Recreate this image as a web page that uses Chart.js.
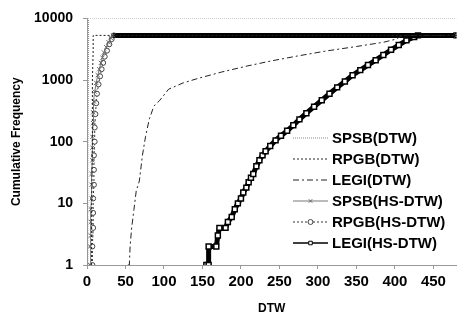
<!DOCTYPE html>
<html>
<head>
<meta charset="utf-8">
<script src="https://cdn.jsdelivr.net/npm/chart.js@4"></script>
<style>
  body { margin: 0; background: #fff; }
  #wrap { width: 462px; height: 316px; }
</style>
</head>
<body>
<div id="wrap"><canvas id="grafico" width="462" height="316"></canvas></div>
<script>
// dados (x = DTW, y = frequência acumulada)
const xTicks = [0, 50, 100, 150, 200, 250, 300, 350, 400, 450];
const yTicks = [1, 10, 100, 1000, 10000];
const nomes = ["SPSB(DTW)", "RPGB(DTW)", "LEGI(DTW)", "SPSB(HS-DTW)", "RPGB(HS-DTW)", "LEGI(HS-DTW)"];

const spsbDtw = [[1, 1], [1, 30], [1.5, 300], [2, 3000], [2, 10000], [480, 10000]];
const rpgbDtw = [[6, 1], [6, 10], [7, 100], [7, 1000], [8, 3000], [8, 5300], [33, 5300], [480, 5300]];
const legiDtw = [[53, 1], [55, 1], [56, 2], [58, 4], [61, 8], [64, 16], [68, 23], [72, 60], [76, 120],
  [81, 235], [87, 380], [94, 460], [106, 710], [125, 900], [145, 1070], [175, 1350], [209, 1700],
  [240, 2050], [273, 2450], [310, 2950], [350, 3500], [385, 4100], [401, 4600], [410, 5300], [480, 5300]];
const spsbHs = [[4, 1], [4, 2], [5, 3], [5, 5], [5, 8], [6, 12], [6, 20], [6, 30], [7, 50], [7, 80],
  [7, 120], [8, 200], [8, 300], [9, 450], [10, 650], [12, 900], [14, 1200], [16, 1500], [18, 1900],
  [20, 2300], [22, 2800], [25, 3400], [28, 4100], [31, 4800], [34, 5300], [480, 5300]];
const rpgbHs = [[7, 1], [7, 2], [8, 4], [8, 7], [8, 12], [9, 20], [9, 35], [9, 60], [10, 100], [10, 170],
  [11, 280], [12, 420], [13, 600], [15, 850], [17, 1150], [19, 1500], [21, 1900], [23, 2400],
  [26, 3000], [29, 3800], [32, 4600], [35, 5300], [480, 5300]];
const legiHs = [[155, 1], [158, 1], [158, 2], [168, 2], [170, 3], [172, 4], [180, 4], [183, 5], [188, 6],
  [192, 8], [196, 10], [200, 12], [203, 15], [207, 18], [210, 22], [213, 26], [216, 30], [220, 40],
  [224, 50], [228, 60], [232, 70], [238, 85], [245, 105], [252, 125], [260, 150], [268, 185],
  [276, 230], [285, 290], [295, 370], [305, 470], [315, 600], [325, 760], [335, 950], [345, 1200],
  [355, 1450], [365, 1750], [375, 2100], [385, 2550], [395, 3100], [405, 3700], [415, 4400],
  [425, 5000], [430, 5300], [480, 5300]];

const fonte = "'Liberation Sans', Arial, sans-serif";
const pts = (arr) => arr.map(([x, y]) => ({ x, y }));

// trecho horizontal no topo aparece como faixa grossa
const faixa = (ctx) => (ctx.p0.parsed.y === ctx.p1.parsed.y && ctx.p0.parsed.y > 1000 ? 5 : undefined);

const estilos = [
  { borderColor: "#8a8a8a", borderWidth: 1, borderDash: [1, 1], pointStyle: false },
  { borderColor: "#222", borderWidth: 1, borderDash: [2, 2], pointStyle: false },
  { borderColor: "#222", borderWidth: 1, borderDash: [6, 3, 2, 3], pointStyle: false },
  { borderColor: "#777", borderWidth: 1, pointStyle: "crossRot", pointRadius: 3, pointBorderColor: "#666", pointBackgroundColor: "#fff", pointBorderWidth: 1 },
  { borderColor: "#333", borderWidth: 1, borderDash: [2, 2], pointStyle: "circle", pointRadius: 2.5, pointBorderColor: "#444", pointBackgroundColor: "#fff", pointBorderWidth: 1 },
  { borderColor: "#000", borderWidth: 5, pointStyle: "rect", pointRadius: 3.5, pointBorderColor: "#000", pointBackgroundColor: "#fff", pointBorderWidth: 1.5 }
];

const series = [spsbDtw, rpgbDtw, legiDtw, spsbHs, rpgbHs, legiHs];

const datasets = series.map((s, i) => ({
  label: nomes[i],
  data: pts(s),
  fill: false,
  tension: 0,
  ...estilos[i],
  segment: i >= 3 ? { borderWidth: faixa, borderColor: (c) => (faixa(c) ? "#000" : undefined), borderDash: (c) => (faixa(c) ? [] : undefined) } : {}
}));

// legenda dentro da área do gráfico
const legendaInterna = {
  id: "legendaInterna",
  afterDraw(chart) {
    const c = chart.ctx;
    const x0 = 293, x1 = 328, y0 = 138, passo = 21;
    c.save();
    c.font = "bold 15px " + fonte;
    c.textBaseline = "middle";
    datasets.forEach((d, i) => {
      const y = y0 + i * passo;
      c.beginPath();
      c.strokeStyle = d.borderColor;
      c.lineWidth = i === 5 ? 1.5 : 1;
      c.setLineDash(d.borderDash || []);
      c.moveTo(x0, y);
      c.lineTo(x1, y);
      c.stroke();
      c.setLineDash([]);
      if (d.pointStyle) {
        c.fillStyle = d.pointBackgroundColor;
        c.strokeStyle = d.pointBorderColor;
        c.lineWidth = 1;
        Chart.helpers.drawPoint(c, { pointStyle: d.pointStyle, radius: 2.5, borderWidth: 1 }, (x0 + x1) / 2, y);
      }
      c.fillStyle = "#000";
      c.fillText(d.label, 332, y + 1);
    });
    c.restore();
  }
};

new Chart(document.getElementById("grafico").getContext("2d"), {
  type: "line",
  data: { datasets },
  options: {
    responsive: false,
    animation: false,
    layout: { padding: { top: 16, right: 0, left: 0, bottom: 0 } },
    plugins: { legend: { display: false }, tooltip: { enabled: false } },
    scales: {
      x: {
        type: "linear",
        min: 0,
        max: 480,
        afterBuildTicks: (s) => { s.ticks = xTicks.map((v) => ({ value: v })); },
        afterFit: (s) => { s.height = 51; },
        grid: { drawOnChartArea: false, drawTicks: true, tickLength: 4, color: "#999" },
        border: { color: "#999" },
        ticks: { color: "#000", font: { family: fonte, size: 15, weight: "bold" }, padding: 4, maxRotation: 0 },
        title: { display: true, text: "DTW", color: "#000", font: { family: fonte, size: 12, weight: "bold" }, padding: { top: 7, bottom: 0 } }
      },
      y: {
        type: "logarithmic",
        min: 1,
        max: 10000,
        afterBuildTicks: (s) => { s.ticks = yTicks.map((v) => ({ value: v })); },
        afterFit: (s) => { s.width = 87; },
        grid: { drawOnChartArea: false, drawTicks: true, tickLength: 4, color: "#999" },
        border: { color: "#999" },
        ticks: { color: "#000", font: { family: fonte, size: 14, weight: "bold" }, padding: 10, callback: (v) => String(v) },
        title: { display: true, text: "Cumulative Frequency", color: "#000", font: { family: fonte, size: 12, weight: "bold" }, padding: { top: 9, bottom: 0 } }
      }
    }
  },
  plugins: [legendaInterna]
});
</script>
</body>
</html>
